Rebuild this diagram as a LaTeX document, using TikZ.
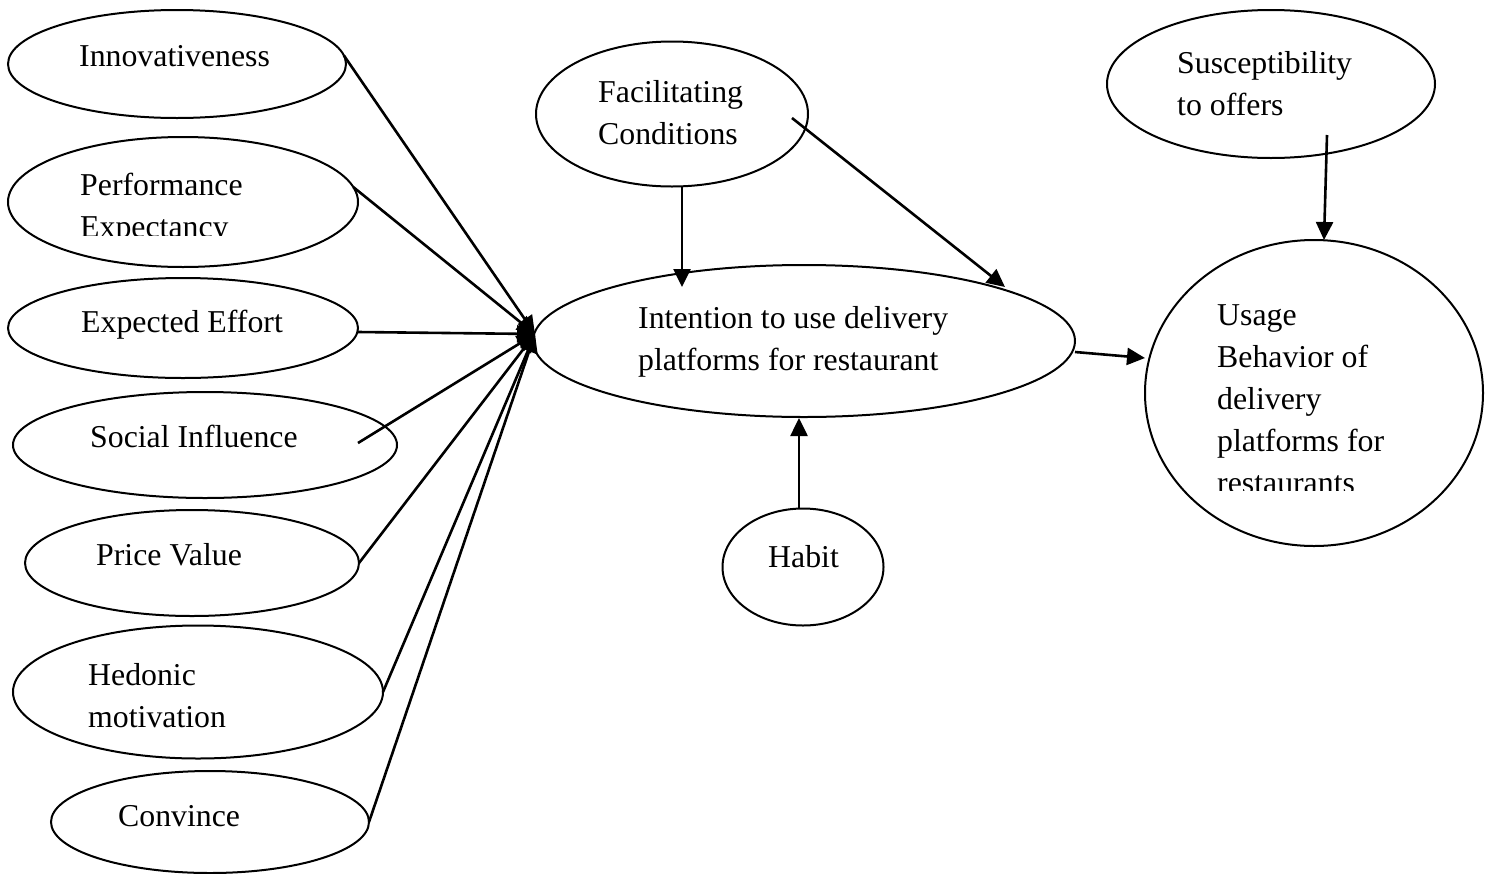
\documentclass[tikz,border=0pt]{standalone}
\usepackage{fontspec}
\setmainfont{Liberation Serif}
\usetikzlibrary{shapes.geometric,arrows.meta}
\begin{document}
\begin{tikzpicture}[x=1pt,y=-1pt,
  ell/.style={draw,ellipse,line width=2pt,inner sep=0pt,outer sep=0pt},
  lbl/.style={anchor=base west,inner sep=0pt,align=left,font=\fontsize{31.8}{42}\selectfont},
  arr/.style={line width=2.6pt,-{Triangle[length=18pt,width=17pt]}}]
\useasboundingbox[fill=white] (0,0) rectangle (1491,873);
% ellipses
\node[ell,minimum width=338pt,minimum height=108pt] (inn) at (177,64) {};
\node[ell,minimum width=350pt,minimum height=130pt] (perf) at (183,202) {};
\node[ell,minimum width=350pt,minimum height=100pt] (ee) at (183,328) {};
\node[ell,minimum width=384pt,minimum height=106pt] (si) at (205,445) {};
\node[ell,minimum width=334pt,minimum height=106pt] (pv) at (192,563) {};
\node[ell,minimum width=370pt,minimum height=133pt] (hm) at (198,692) {};
\node[ell,minimum width=318pt,minimum height=102pt] (cv) at (210,822) {};
\node[ell,minimum width=272pt,minimum height=145pt] (fc) at (672,114) {};
\node[ell,minimum width=542pt,minimum height=152pt] (int) at (804,341) {};
\node[ell,minimum width=161pt,minimum height=117pt] (hab) at (803,567) {};
\node[ell,minimum width=328pt,minimum height=148pt] (sus) at (1271,84) {};
\node[ell,minimum width=338pt,minimum height=306pt] (use) at (1314,393) {};
% labels (anchor: baseline of last line)
\node[lbl] (tinn) at (79,66) {Innovativeness};
\begin{scope}
\clip (0,140) rectangle (360,235);
\node[lbl] (tperf) at (80,237) {Performance\\Expectancy};
\end{scope}
\node[lbl] (tee) at (81,332) {Expected Effort};
\node[lbl] (tsi) at (90,447) {Social Influence};
\node[lbl] (tpv) at (96,565) {Price Value};
\node[lbl] (thm) at (88,727) {Hedonic\\motivation};
\node[lbl] (tcv) at (118,826) {Convince};
\node[lbl] (tfc) at (598,144) {Facilitating\\Conditions};
\node[lbl] (tint) at (638,370) {Intention to use delivery\\platforms for restaurant};
\node[lbl] (thab) at (768,567) {Habit};
\node[lbl] (tsus) at (1177,115) {Susceptibility\\to offers};
\begin{scope}
\clip (1150,250) rectangle (1480,490);
\node[lbl] (tuse) at (1217,493) {Usage\\Behavior of\\delivery\\platforms for\\restaurants};
\end{scope}
% arrow ends
\coordinate (hub) at (535,334);
\coordinate (tFC) at (682,287);
\coordinate (tFI) at (1005,287);
\coordinate (tIU) at (1145,358);
\coordinate (tHI) at (799,418);
\coordinate (tSU) at (1324,240);
% connectors
\draw[arr] (inn.3) -- (hub);
\draw[arr] (perf.5) -- (hub);
\draw[arr] ([yshift=-4pt]ee.east) -- (hub);
\draw[arr] ([shift={(153pt,2pt)}]si.center) -- (hub);
\draw[arr] (pv.east) -- (hub);
\draw[arr] (hm.east) -- (hub);
\draw[arr] (cv.east) -- (hub);
\draw[arr] ([xshift=10pt]fc.south) -- (tFC);
\draw[arr] ([shift={(120pt,-4pt)}]fc.center) -- (tFI);
\draw[arr] ([yshift=-11pt]int.east) -- (tIU);
\draw[arr] ([xshift=-4pt]hab.north) -- (tHI);
\draw[arr] ([shift={(56pt,-51pt)}]sus.center) -- (tSU);
\end{tikzpicture}
\end{document}
